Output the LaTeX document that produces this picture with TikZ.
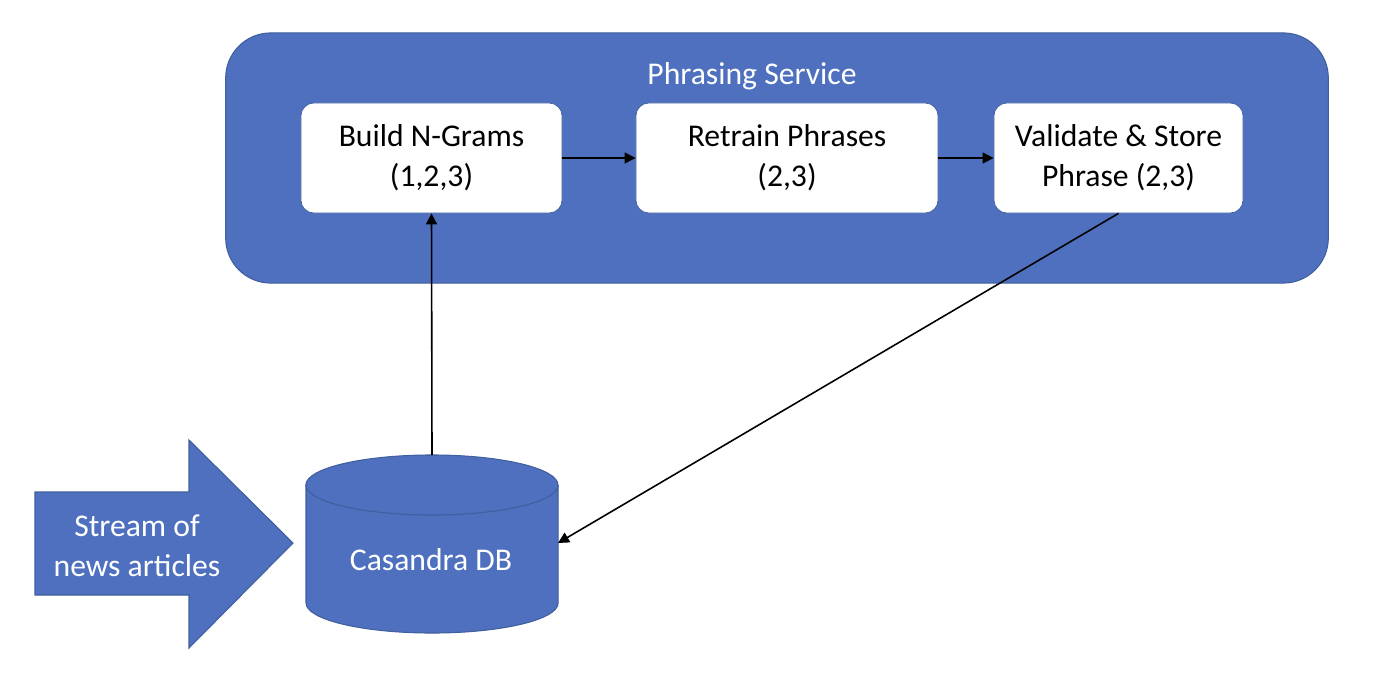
\documentclass[tikz,border=0pt]{standalone}
\usepackage{fontspec}
\setmainfont{Carlito}
\usetikzlibrary{arrows.meta}
\definecolor{ofblue}{HTML}{4E70BE}
\definecolor{ofedge}{HTML}{3F5F9F}
\begin{document}
\begin{tikzpicture}[x=0.01cm,y=-0.01cm,
  txt/.style={font=\fontsize{9}{11.4}\selectfont, align=center},
  stepbox/.style={txt, fill=white, draw=ofedge, line width=0.2pt, rounded corners=0.13cm, inner sep=0pt, minimum height=1.10cm, text=black},
  conn/.style={draw=black, line width=0.45pt, -{Triangle[length=1.1mm,width=1.1mm]}}]
\useasboundingbox (0,0) rectangle (1400,697);
% service container
\node[draw=ofedge, fill=ofblue, line width=0.3pt, rounded corners=0.45cm, minimum width=11.02cm, minimum height=2.50cm, inner sep=0pt] (service) at (777,158) {};
\node[txt, text=white] (title) at (752,76) {Phrasing Service};
% steps
\node[stepbox, minimum width=2.61cm] (ngram) at (431.5,158) {Build N-Grams\\(1,2,3)};
\node[stepbox, minimum width=3.02cm] (retrain) at (787,158) {Retrain Phrases\\(2,3)};
\node[stepbox, minimum width=2.49cm] (vs) at (1118.5,158) {Validate \& Store\\Phrase (2,3)};
% block arrow
\fill[ofblue, draw=ofedge, line width=0.3pt] (35,492) -- (189,492) -- (189,440) -- (293,543) -- (189,648) -- (189,595) -- (35,595) -- cycle;
\node[txt, text=white] (stream) at (137,546) {Stream of\\news articles};
% cylinder
\filldraw[fill=ofblue, draw=ofedge, line width=0.3pt] (306,485) -- (306,603) arc[start angle=180, end angle=360, x radius=1.26cm, y radius=0.30cm] -- (558,485) arc[start angle=0, end angle=180, x radius=1.26cm, y radius=0.30cm] -- cycle;
\draw[ofedge, line width=0.3pt] (306,485) arc[start angle=180, end angle=360, x radius=1.26cm, y radius=0.30cm];
\node[txt, text=white] (db) at (431,560) {Casandra DB};
\coordinate (dbtop) at (432,455);
\coordinate (dbright) at (558,543);
% connectors
\draw[conn] (ngram.east) -- (retrain.west);
\draw[conn] (retrain.east) -- (vs.west);
\draw[conn] (dbtop) -- (ngram.south);
\draw[conn] (vs.south) -- (dbright);
\end{tikzpicture}
\end{document}
